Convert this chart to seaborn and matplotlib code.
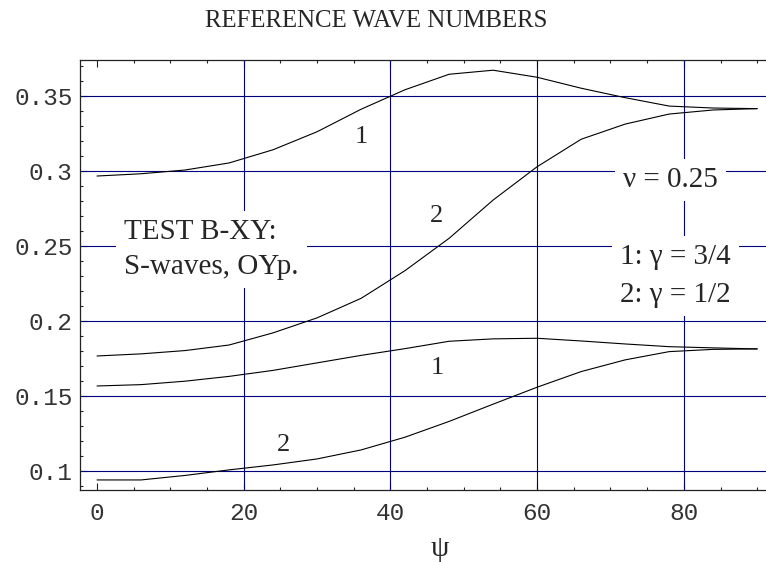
import matplotlib
matplotlib.use("Agg")
import matplotlib.pyplot as plt
import pandas as pd
import seaborn as sns
from matplotlib.ticker import FixedLocator, MultipleLocator

# angle psi (degrees) and the four reference wave number curves
psi = [0, 6, 12, 18, 24, 30, 36, 42, 48, 54, 60, 66, 72, 78, 84, 90]
upper_1 = [0.2965, 0.298, 0.3005, 0.3052, 0.314, 0.326, 0.341, 0.354,
           0.3643, 0.367, 0.3623, 0.355, 0.3487, 0.3431, 0.3418, 0.3414]
upper_2 = [0.1766, 0.178, 0.1802, 0.1839, 0.192, 0.202, 0.215, 0.2335,
           0.255, 0.2805, 0.3027, 0.321, 0.3311, 0.3378, 0.3405, 0.3414]
lower_1 = [0.1566, 0.1575, 0.1598, 0.163, 0.167, 0.172, 0.177, 0.1815,
           0.1864, 0.188, 0.1884, 0.1866, 0.1846, 0.1828, 0.182, 0.1813]
lower_2 = [0.094, 0.094, 0.097, 0.1007, 0.104, 0.108, 0.114, 0.1225,
           0.133, 0.1445, 0.1558, 0.1662, 0.174, 0.1795, 0.181, 0.1813]

curve_names = ["1 upper", "2 upper", "1 lower", "2 lower"]
xticks = [0, 20, 40, 60, 80]
yticks = [0.1, 0.15, 0.2, 0.25, 0.3, 0.35]
ytick_labels = ["0.1", "0.15", "0.2", "0.25", "0.3", "0.35"]
grid_x = [20, 40, 60, 80]
grid_y = [0.1, 0.15, 0.2, 0.25, 0.3, 0.35]

df = pd.DataFrame({
    "psi": psi * 4,
    "k": upper_1 + upper_2 + lower_1 + lower_2,
    "curve": [c for c in curve_names for _ in psi],
})

sns.set_style("white")
plt.rcParams["font.family"] = ["Liberation Serif", "DejaVu Serif"]

fig = plt.figure(figsize=(7.66, 5.62), dpi=100)
ax = fig.add_axes([80.3 / 766, 72 / 562, (766 - 80.3) / 766, 430 / 562])

navy = "#00007f"
for gx in grid_x:
    ax.axvline(gx, color=navy, lw=0.8, zorder=1)
for gy in grid_y:
    ax.axhline(gy, color=navy, lw=0.8, zorder=1)

sns.lineplot(data=df, x="psi", y="k", units="curve", estimator=None,
             color="black", lw=0.8, sort=False, ax=ax, zorder=3)

ax.set_xlim(-2.28, 91.2)
ax.set_ylim(0.0873, 0.3738)

ax.xaxis.set_major_locator(FixedLocator(xticks))
ax.xaxis.set_minor_locator(MultipleLocator(5))
ax.yaxis.set_major_locator(FixedLocator(yticks))
ax.yaxis.set_minor_locator(MultipleLocator(0.01))
ax.set_xticklabels([str(v) for v in xticks])
ax.set_yticklabels(ytick_labels)

mono = dict(family="Liberation Mono", size=17.6, color="#333333")
for lab in ax.get_xticklabels() + ax.get_yticklabels():
    lab.set_fontfamily(mono["family"])
    lab.set_fontsize(mono["size"])
    lab.set_color(mono["color"])

ax.tick_params(which="both", direction="in", top=True, bottom=True,
               left=True, right=False, color="#222222", width=0.8)
ax.tick_params(which="major", length=5)
ax.tick_params(which="minor", length=2.5)
ax.tick_params(axis="x", which="major", pad=8.5)
ax.tick_params(axis="y", which="major", pad=5.5)

for side in ["left", "bottom", "top"]:
    ax.spines[side].set_color("#222222")
    ax.spines[side].set_linewidth(0.9)
ax.spines["right"].set_visible(False)

ax.set_xlabel("ψ", fontsize=21)
ax.xaxis.label.set_va("baseline")
ax.xaxis.set_label_coords(0.5246, -0.1535)
ax.set_ylabel("")

ax.text(0.4315, 1.076, "REFERENCE WAVE NUMBERS", transform=ax.transAxes,
        ha="center", va="baseline", fontsize=17.9)

# multi-line texts are anchored on the baseline of their last line
box = dict(boxstyle="square,pad=0.28", fc="white", ec="none")
ax.text(3.68, 0.2312, "TEST B-XY:\nS-waves, OYp.", fontsize=21, ha="left",
        va="baseline", linespacing=1.45, bbox=box, zorder=2)
ax.text(78.2, 0.2892, "ν = 0.25", fontsize=21, ha="center",
        va="baseline", bbox=box, zorder=2)
ax.text(78.9, 0.2128, "1: γ = 3/4\n2: γ = 1/2", fontsize=21, ha="center",
        va="baseline", linespacing=1.58, bbox=box, zorder=2)

# curve labels
ax.text(36.0, 0.3185, "1", fontsize=19, ha="center", va="baseline", zorder=4)
ax.text(46.3, 0.2659, "2", fontsize=19, ha="center", va="baseline", zorder=4)
ax.text(46.4, 0.1646, "1", fontsize=19, ha="center", va="baseline", zorder=4)
ax.text(25.4, 0.1133, "2", fontsize=19, ha="center", va="baseline", zorder=4)

fig.savefig("out.png", dpi=100)
